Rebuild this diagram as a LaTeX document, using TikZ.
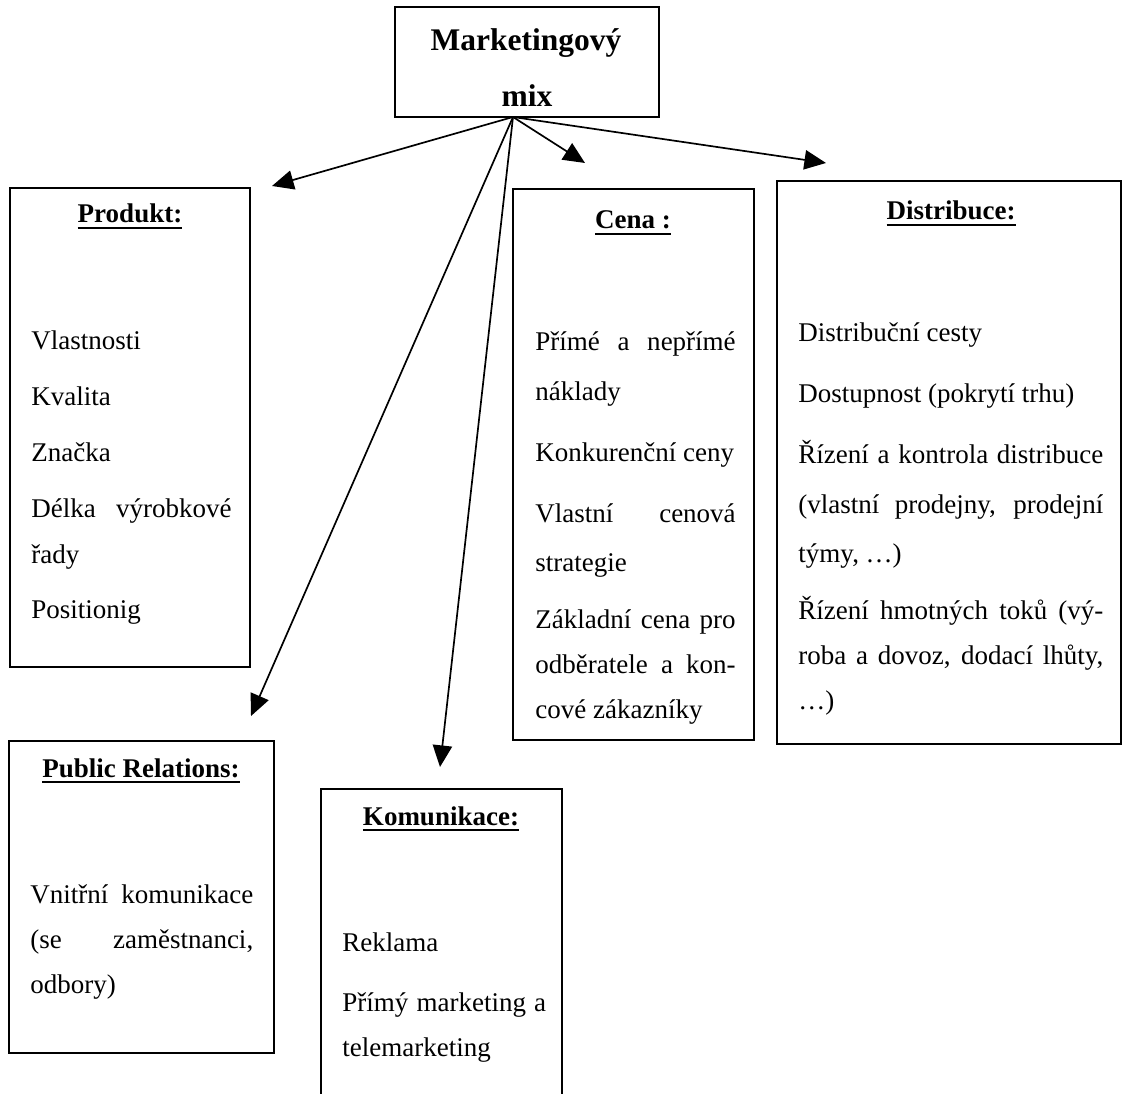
\documentclass[tikz,border=0pt]{standalone}
\usepackage{fontspec}
\setmainfont{Liberation Serif}
\usetikzlibrary{arrows.meta,fit}
\newcommand\ulhead[1]{\setbox0\hbox{#1}\rlap{\rule[-2.6pt]{\wd0}{1pt}}\box0}
\newcommand\bodyset[2]{\fontsize{12}{#1}\selectfont\setlength{\parskip}{#2}}
\begin{document}
\begin{tikzpicture}[x=0.4444pt,y=-0.4444pt,
  boxst/.style={draw, line width=0.75pt, inner sep=0pt},
  head/.style={font=\fontsize{12}{14}\selectfont\bfseries, anchor=base, inner sep=0pt},
  title/.style={font=\fontsize{14}{16}\selectfont\bfseries, anchor=base, inner sep=0pt},
  body/.style={anchor=base west, inner sep=0pt, align=justify, font=\fontsize{12}{20}\selectfont},
  link/.style={line width=0.75pt, -{Triangle[length=9.6pt,width=8.6pt]}},
]
\useasboundingbox (0,0) rectangle (1122,1094);
\clip (0,0) rectangle (1122,1094);

% boxes
\node[boxst, fit={(395,7) (659,117)}] (mix) {};
\node[boxst, fit={(10,188) (250,667)}] (prod) {};
\node[boxst, fit={(513,189) (754,740)}] (cena) {};
\node[boxst, fit={(777,181) (1121,744)}] (dist) {};
\node[boxst, fit={(9,741) (274,1053)}] (pr) {};
\node[boxst, fit={(321,789) (562,1130)}] (kom) {};

% title
\node[title] (mixA) at (526,51) {Marketingový};
\node[title] (mixB) at (527,107) {mix};

% headings
\node[head] (prodH) at (130,223) {\ulhead{Produkt:}};
\node[head] (cenaH) at (633,229) {\ulhead{Cena :}};
\node[head] (distH) at (951,220) {\ulhead{Distribuce:}};
\node[head] (prH) at (141,777) {\ulhead{Public Relations:}};
\node[head] (komH) at (441,825) {\ulhead{Komunikace:}};

% bodies
\node[body, text width=89pt] (prodT) at (31,350)
  {\bodyset{20.44pt}{4.44pt}Vlastnosti\par Kvalita\par Značka\par Délka výrobkové\linebreak řady\par Positionig};
\node[body, text width=89pt] (cenaT) at (535,351)
  {\bodyset{21.8pt}{5.3pt}Přímé a nepřímé\linebreak náklady\par Konkurenční ceny\par Vlastní cenová\linebreak strategie\par Základní cena pro\linebreak odběratele a kon-\linebreak cové zákazníky};
\node[body, text width=135.5pt] (distT) at (798,342)
  {\bodyset{21.8pt}{5.3pt}Distribuční cesty\par Dostupnost (pokrytí trhu)\par Řízení a kontrola distribuce\linebreak (vlastní prodejny, prodejní\linebreak týmy, …)\par Řízení hmotných toků (vý-\linebreak roba a dovoz, dodací lhůty,\linebreak …)};
\node[body, text width=99pt] (prT) at (30,903)
  {\bodyset{21.1pt}{0pt}Vnitřní komunikace\linebreak (se zaměstnanci,\linebreak odbory)};
\node[body, text width=90.5pt] (komT) at (342,951)
  {\bodyset{20.9pt}{7.1pt}Reklama\par Přímý marketing a\linebreak telemarketing};

% connectors
\coordinate (o) at (513,117);
\coordinate (tP) at (272,186);
\coordinate (tPR) at (251,716);
\coordinate (tK) at (440,767);
\coordinate (tC) at (585,163);
\coordinate (tD) at (826,163);
\draw[link] (o) -- (tP);
\draw[link] (o) -- (tPR);
\draw[link] (o) -- (tK);
\draw[link] (o) -- (tC);
\draw[link] (o) -- (tD);
\end{tikzpicture}
\end{document}
